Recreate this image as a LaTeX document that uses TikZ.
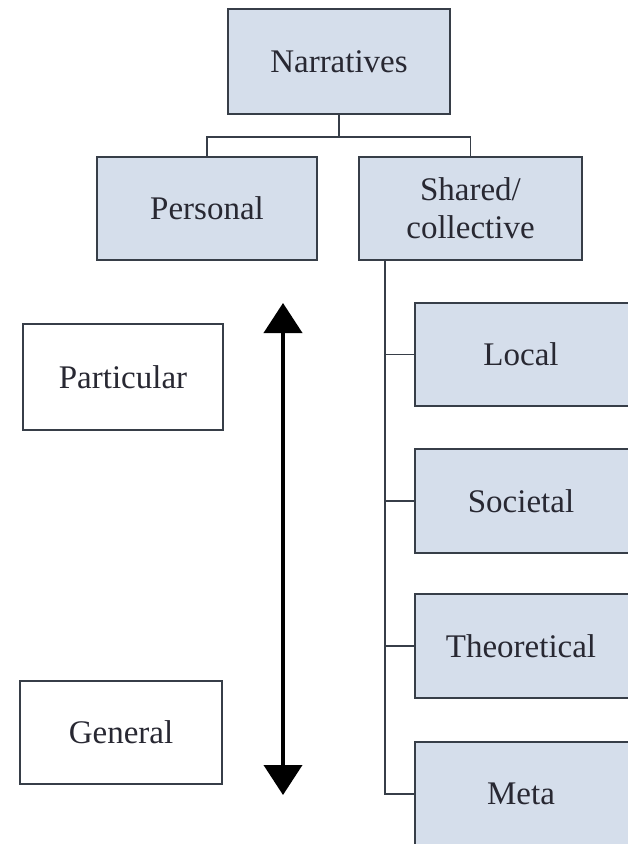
\documentclass[tikz,border=0pt]{standalone}
\usepackage{fontspec}
\setmainfont{Liberation Serif}
\usetikzlibrary{arrows.meta}
\definecolor{boxfill}{RGB}{213,222,235}
\definecolor{boxline}{RGB}{55,62,72}
\definecolor{txt}{RGB}{40,40,50}
\tikzset{
  bluebox/.style={draw=boxline, line width=1.6pt, fill=boxfill, text=txt, align=center,
    font=\fontsize{33}{38}\selectfont, inner sep=0pt},
  whitebox/.style={draw=boxline, line width=1.6pt, fill=white, text=txt, align=center,
    font=\fontsize{33}{38}\selectfont, inner sep=0pt},
  lbl/.style={text=txt, font=\fontsize{33}{38}\selectfont},
  conn/.style={draw=boxline, line width=1.8pt},
  bigarrow/.style={draw=black, line width=4pt,
    {Triangle[width=38pt,length=30pt]}-{Triangle[width=38pt,length=30pt]}}
}
\begin{document}
\begin{tikzpicture}[x=1pt,y=-1pt]
\useasboundingbox (0,0) rectangle (628,844);
\clip (0,0) rectangle (628,844);
\fill[white] (0,0) rectangle (628,844);
\node[bluebox, minimum width=222pt, minimum height=105pt] (nar) at (339,61.5) {Narratives};
\node[bluebox, minimum width=220pt, minimum height=103pt] (per) at (207,208.5) {Personal};
\node[bluebox, minimum width=223pt, minimum height=103pt] (sha) at (470.5,208.5) {Shared/\\collective};
\node[bluebox, minimum width=260pt, minimum height=103pt] (loc) at (545,354.5) {};
\node[lbl] (locl) at (521,354.5) {Local};
\node[bluebox, minimum width=260pt, minimum height=104pt] (soc) at (545,501) {};
\node[lbl] (socl) at (521,501) {Societal};
\node[bluebox, minimum width=260pt, minimum height=104pt] (the) at (545,646) {};
\node[lbl] (thel) at (521,646) {Theoretical};
\node[bluebox, minimum width=260pt, minimum height=104pt] (met) at (545,794) {};
\node[lbl] (metl) at (521,794) {Meta};
\node[whitebox, minimum width=200pt, minimum height=106pt] (par) at (123,377) {Particular};
\node[whitebox, minimum width=202pt, minimum height=103pt] (gen) at (121,732.5) {General};
% tree connectors
\coordinate (mid) at (339,137);
\draw[conn] (nar.south) -- (mid);
\draw[conn] (mid) -| (per.north);
\draw[conn] (mid) -| (sha.north);
\coordinate (bt) at (385,260);
\draw[conn] (bt) |- (met.west);
\draw[conn] (bt |- loc.west) -- (loc.west);
\draw[conn] (bt |- soc.west) -- (soc.west);
\draw[conn] (bt |- the.west) -- (the.west);
% big arrow
\coordinate (atop) at (283,303);
\coordinate (abot) at (283,795);
\draw[bigarrow] (atop) -- (abot);
\end{tikzpicture}
\end{document}
